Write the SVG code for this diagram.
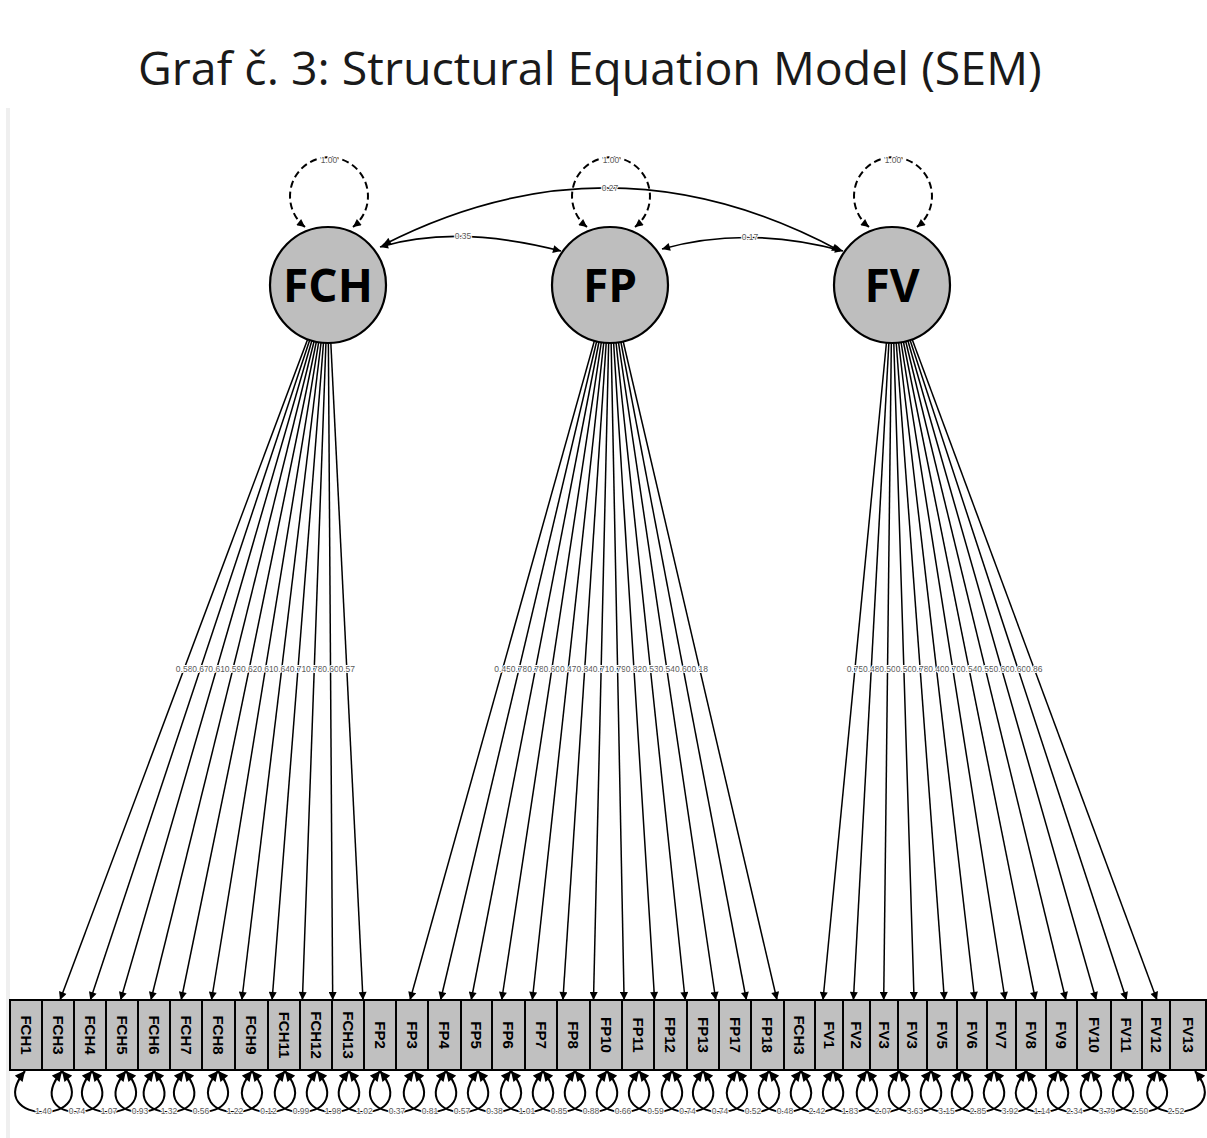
<svg xmlns="http://www.w3.org/2000/svg" width="1207" height="1138" viewBox="0 0 1207 1138">
<defs>
<marker id="ah" viewBox="0 0 10 10" refX="10" refY="5" markerWidth="10" markerHeight="8" markerUnits="userSpaceOnUse" orient="auto-start-reverse"><path d="M0,0 L10,5 L0,10 z" fill="#000"/></marker>
<marker id="ah2" viewBox="0 0 10 10" refX="10" refY="5" markerWidth="11" markerHeight="10" markerUnits="userSpaceOnUse" orient="auto-start-reverse"><path d="M0,0 L10,5 L0,10 z" fill="#000"/></marker>
</defs>
<style>
.title{font-family:"Open Sans","Noto Sans",sans-serif;font-size:46.5px;fill:#1a1a1a}
.lat circle{fill:#bebebe;stroke:#000;stroke-width:2.2}
.lat text{font-family:"Open Sans","Noto Sans",sans-serif;font-weight:bold;font-size:46px;fill:#000;text-anchor:middle}
.man rect{fill:#c0c0c0;stroke:#000;stroke-width:2}
.man text{font-family:"Liberation Sans",Arial,sans-serif;font-weight:bold;font-size:15px;fill:#000;text-anchor:middle;dominant-baseline:central}
.ld{stroke:#000;stroke-width:1.5;fill:none;marker-end:url(#ah)}
.cov{stroke:#000;stroke-width:1.7;fill:none;marker-start:url(#ah);marker-end:url(#ah)}
.var{stroke:#000;stroke-width:2;fill:none;stroke-dasharray:7 4;marker-start:url(#ah);marker-end:url(#ah)}
.res{stroke:#000;stroke-width:2;fill:none;marker-start:url(#ah2);marker-end:url(#ah2)}
.lb{font-family:"Liberation Sans",Arial,sans-serif;font-size:8.5px;fill:#5a5a5a;text-anchor:middle;dominant-baseline:central;stroke:#fff;stroke-width:2;paint-order:stroke}
</style>
<rect x="0" y="0" width="1207" height="1138" fill="#fff"/>
<rect x="6" y="108" width="4" height="1030" fill="#efefef"/>
<text class="title" x="138" y="85">Graf č. 3: Structural Equation Model (SEM)</text>

<g id="connectors">
<line class="ld" x1="328" y1="285" x2="60" y2="1000"/>
<line class="ld" x1="328" y1="285" x2="90.3" y2="1000"/>
<line class="ld" x1="328" y1="285" x2="120.6" y2="1000"/>
<line class="ld" x1="328" y1="285" x2="150.9" y2="1000"/>
<line class="ld" x1="328" y1="285" x2="181.2" y2="1000"/>
<line class="ld" x1="328" y1="285" x2="211.5" y2="1000"/>
<line class="ld" x1="328" y1="285" x2="241.8" y2="1000"/>
<line class="ld" x1="328" y1="285" x2="272.1" y2="1000"/>
<line class="ld" x1="328" y1="285" x2="302.4" y2="1000"/>
<line class="ld" x1="328" y1="285" x2="332.7" y2="1000"/>
<line class="ld" x1="328" y1="285" x2="363" y2="1000"/>
<line class="ld" x1="610" y1="285" x2="410" y2="1000"/>
<line class="ld" x1="610" y1="285" x2="440.6" y2="1000"/>
<line class="ld" x1="610" y1="285" x2="471.2" y2="1000"/>
<line class="ld" x1="610" y1="285" x2="501.7" y2="1000"/>
<line class="ld" x1="610" y1="285" x2="532.3" y2="1000"/>
<line class="ld" x1="610" y1="285" x2="562.9" y2="1000"/>
<line class="ld" x1="610" y1="285" x2="593.5" y2="1000"/>
<line class="ld" x1="610" y1="285" x2="624.1" y2="1000"/>
<line class="ld" x1="610" y1="285" x2="654.6" y2="1000"/>
<line class="ld" x1="610" y1="285" x2="685.2" y2="1000"/>
<line class="ld" x1="610" y1="285" x2="715.8" y2="1000"/>
<line class="ld" x1="610" y1="285" x2="746.4" y2="1000"/>
<line class="ld" x1="610" y1="285" x2="777" y2="1000"/>
<line class="ld" x1="892" y1="285" x2="823" y2="1000"/>
<line class="ld" x1="892" y1="285" x2="853.4" y2="1000"/>
<line class="ld" x1="892" y1="285" x2="883.7" y2="1000"/>
<line class="ld" x1="892" y1="285" x2="914.1" y2="1000"/>
<line class="ld" x1="892" y1="285" x2="944.4" y2="1000"/>
<line class="ld" x1="892" y1="285" x2="974.8" y2="1000"/>
<line class="ld" x1="892" y1="285" x2="1005.2" y2="1000"/>
<line class="ld" x1="892" y1="285" x2="1035.5" y2="1000"/>
<line class="ld" x1="892" y1="285" x2="1065.9" y2="1000"/>
<line class="ld" x1="892" y1="285" x2="1096.2" y2="1000"/>
<line class="ld" x1="892" y1="285" x2="1126.6" y2="1000"/>
<line class="ld" x1="892" y1="285" x2="1157" y2="1000"/>

<path class="cov" d="M380,247 Q456,224 561,251"/>
<path class="cov" d="M662,249 Q747.5,225 843,251"/>
<path class="cov" d="M383,245 Q612,128 840,251"/>

<path class="var" d="M305,227 A39,39 0 1 1 353,227"/>
<path class="var" d="M587,227 A39,39 0 1 1 635,227"/>
<path class="var" d="M869,227 A39,39 0 1 1 917,227"/>

<path class="res" d="M25,1071 C-20,1126 107,1126 62,1071"/>
<path class="res" d="M62,1071 C17,1126 137,1126 92,1071"/>
<path class="res" d="M92,1071 C47,1126 171,1126 126,1071"/>
<path class="res" d="M126,1071 C81,1126 199,1126 154,1071"/>
<path class="res" d="M154,1071 C109,1126 229,1126 184,1071"/>
<path class="res" d="M184,1071 C139,1126 263,1126 218,1071"/>
<path class="res" d="M218,1071 C173,1126 297,1126 252,1071"/>
<path class="res" d="M252,1071 C207,1126 330,1126 285,1071"/>
<path class="res" d="M285,1071 C240,1126 362,1126 317,1071"/>
<path class="res" d="M317,1071 C272,1126 394,1126 349,1071"/>
<path class="res" d="M349,1071 C304,1126 425,1126 380,1071"/>
<path class="res" d="M380,1071 C335,1126 459,1126 414,1071"/>
<path class="res" d="M414,1071 C369,1126 491,1126 446,1071"/>
<path class="res" d="M446,1071 C401,1126 523,1126 478,1071"/>
<path class="res" d="M478,1071 C433,1126 556,1126 511,1071"/>
<path class="res" d="M511,1071 C466,1126 588,1126 543,1071"/>
<path class="res" d="M543,1071 C498,1126 620,1126 575,1071"/>
<path class="res" d="M575,1071 C530,1126 652,1126 607,1071"/>
<path class="res" d="M607,1071 C562,1126 684,1126 639,1071"/>
<path class="res" d="M639,1071 C594,1126 717,1126 672,1071"/>
<path class="res" d="M672,1071 C627,1126 748,1126 703,1071"/>
<path class="res" d="M703,1071 C658,1126 782,1126 737,1071"/>
<path class="res" d="M737,1071 C692,1126 814,1126 769,1071"/>
<path class="res" d="M769,1071 C724,1126 846,1126 801,1071"/>
<path class="res" d="M801,1071 C756,1126 878,1126 833,1071"/>
<path class="res" d="M833,1071 C788,1126 912,1126 867,1071"/>
<path class="res" d="M867,1071 C822,1126 944,1126 899,1071"/>
<path class="res" d="M899,1071 C854,1126 976,1126 931,1071"/>
<path class="res" d="M931,1071 C886,1126 1007,1126 962,1071"/>
<path class="res" d="M962,1071 C917,1126 1039,1126 994,1071"/>
<path class="res" d="M994,1071 C949,1126 1071,1126 1026,1071"/>
<path class="res" d="M1026,1071 C981,1126 1103,1126 1058,1071"/>
<path class="res" d="M1058,1071 C1013,1126 1136,1126 1091,1071"/>
<path class="res" d="M1091,1071 C1046,1126 1168,1126 1123,1071"/>
<path class="res" d="M1123,1071 C1078,1126 1202,1126 1157,1071"/>
<path class="res" d="M1157,1071 C1112,1126 1240,1126 1195,1071"/>
</g>

<g id="connector-labels">
<text class="lb" x="184.1" y="669">0.58</text>
<text class="lb" x="200.4" y="669">0.67</text>
<text class="lb" x="216.6" y="669">0.61</text>
<text class="lb" x="232.9" y="669">0.59</text>
<text class="lb" x="249.2" y="669">0.62</text>
<text class="lb" x="265.4" y="669">0.61</text>
<text class="lb" x="281.7" y="669">0.64</text>
<text class="lb" x="298.0" y="669">0.71</text>
<text class="lb" x="314.3" y="669">0.78</text>
<text class="lb" x="330.5" y="669">0.60</text>
<text class="lb" x="346.8" y="669">0.57</text>
<text class="lb" x="502.6" y="669">0.45</text>
<text class="lb" x="519.0" y="669">0.78</text>
<text class="lb" x="535.5" y="669">0.78</text>
<text class="lb" x="551.8" y="669">0.60</text>
<text class="lb" x="568.3" y="669">0.47</text>
<text class="lb" x="584.7" y="669">0.84</text>
<text class="lb" x="601.1" y="669">0.71</text>
<text class="lb" x="617.6" y="669">0.79</text>
<text class="lb" x="634.0" y="669">0.82</text>
<text class="lb" x="650.4" y="669">0.53</text>
<text class="lb" x="666.8" y="669">0.54</text>
<text class="lb" x="683.2" y="669">0.60</text>
<text class="lb" x="699.7" y="669">0.18</text>
<text class="lb" x="854.9" y="669">0.75</text>
<text class="lb" x="871.3" y="669">0.48</text>
<text class="lb" x="887.5" y="669">0.50</text>
<text class="lb" x="903.9" y="669">0.50</text>
<text class="lb" x="920.1" y="669">0.78</text>
<text class="lb" x="936.5" y="669">0.40</text>
<text class="lb" x="952.8" y="669">0.70</text>
<text class="lb" x="969.1" y="669">0.54</text>
<text class="lb" x="985.4" y="669">0.55</text>
<text class="lb" x="1001.7" y="669">0.60</text>
<text class="lb" x="1018.0" y="669">0.60</text>
<text class="lb" x="1034.3" y="669">0.86</text>
<text class="lb" x="463" y="236">0.35</text>
<text class="lb" x="750" y="237">0.17</text>
<text class="lb" x="610" y="188">0.27</text>
<text class="lb" x="329" y="160">1.00</text>
<text class="lb" x="611" y="160">1.00</text>
<text class="lb" x="893" y="160">1.00</text>
<text class="lb" x="43.5" y="1111">1.40</text>
<text class="lb" x="77" y="1111">0.74</text>
<text class="lb" x="109" y="1111">1.07</text>
<text class="lb" x="140" y="1111">0.93</text>
<text class="lb" x="169" y="1111">1.32</text>
<text class="lb" x="201" y="1111">0.56</text>
<text class="lb" x="235" y="1111">1.22</text>
<text class="lb" x="268.5" y="1111">0.12</text>
<text class="lb" x="301" y="1111">0.99</text>
<text class="lb" x="333" y="1111">1.98</text>
<text class="lb" x="364.5" y="1111">1.02</text>
<text class="lb" x="397" y="1111">0.37</text>
<text class="lb" x="430" y="1111">0.81</text>
<text class="lb" x="462" y="1111">0.57</text>
<text class="lb" x="494.5" y="1111">0.38</text>
<text class="lb" x="527" y="1111">1.01</text>
<text class="lb" x="559" y="1111">0.85</text>
<text class="lb" x="591" y="1111">0.88</text>
<text class="lb" x="623" y="1111">0.66</text>
<text class="lb" x="655.5" y="1111">0.59</text>
<text class="lb" x="687.5" y="1111">0.74</text>
<text class="lb" x="720" y="1111">0.74</text>
<text class="lb" x="753" y="1111">0.52</text>
<text class="lb" x="785" y="1111">0.48</text>
<text class="lb" x="817" y="1111">2.42</text>
<text class="lb" x="850" y="1111">1.83</text>
<text class="lb" x="883" y="1111">2.07</text>
<text class="lb" x="915" y="1111">3.63</text>
<text class="lb" x="946.5" y="1111">3.15</text>
<text class="lb" x="978" y="1111">2.85</text>
<text class="lb" x="1010" y="1111">3.92</text>
<text class="lb" x="1042" y="1111">1.14</text>
<text class="lb" x="1074.5" y="1111">2.34</text>
<text class="lb" x="1107" y="1111">3.79</text>
<text class="lb" x="1140" y="1111">2.50</text>
<text class="lb" x="1176" y="1111">2.52</text>
</g>

<g id="FCH" class="lat"><circle cx="328" cy="285" r="58"/><text x="328" y="302">FCH</text></g>
<g id="FP" class="lat"><circle cx="610" cy="285" r="58"/><text x="610" y="302">FP</text></g>
<g id="FV" class="lat"><circle cx="892" cy="285" r="58"/><text x="892" y="302">FV</text></g>

<g id="m1" class="man"><rect x="10" y="1000" width="32" height="70"/><text x="26" y="1035" transform="rotate(90 26 1035)">FCH1</text></g>
<g id="m2" class="man"><rect x="42" y="1000" width="32" height="70"/><text x="58" y="1035" transform="rotate(90 58 1035)">FCH3</text></g>
<g id="m3" class="man"><rect x="74" y="1000" width="32" height="70"/><text x="90" y="1035" transform="rotate(90 90 1035)">FCH4</text></g>
<g id="m4" class="man"><rect x="106" y="1000" width="32" height="70"/><text x="122" y="1035" transform="rotate(90 122 1035)">FCH5</text></g>
<g id="m5" class="man"><rect x="138" y="1000" width="32" height="70"/><text x="154" y="1035" transform="rotate(90 154 1035)">FCH6</text></g>
<g id="m6" class="man"><rect x="170" y="1000" width="32" height="70"/><text x="186" y="1035" transform="rotate(90 186 1035)">FCH7</text></g>
<g id="m7" class="man"><rect x="202" y="1000" width="33" height="70"/><text x="218.5" y="1035" transform="rotate(90 218.5 1035)">FCH8</text></g>
<g id="m8" class="man"><rect x="235" y="1000" width="33" height="70"/><text x="251.5" y="1035" transform="rotate(90 251.5 1035)">FCH9</text></g>
<g id="m9" class="man"><rect x="268" y="1000" width="32" height="70"/><text x="284" y="1035" transform="rotate(90 284 1035)">FCH11</text></g>
<g id="m10" class="man"><rect x="300" y="1000" width="32" height="70"/><text x="316" y="1035" transform="rotate(90 316 1035)">FCH12</text></g>
<g id="m11" class="man"><rect x="332" y="1000" width="32" height="70"/><text x="348" y="1035" transform="rotate(90 348 1035)">FCH13</text></g>
<g id="m12" class="man"><rect x="364" y="1000" width="32" height="70"/><text x="380" y="1035" transform="rotate(90 380 1035)">FP2</text></g>
<g id="m13" class="man"><rect x="396" y="1000" width="32" height="70"/><text x="412" y="1035" transform="rotate(90 412 1035)">FP3</text></g>
<g id="m14" class="man"><rect x="428" y="1000" width="33" height="70"/><text x="444.5" y="1035" transform="rotate(90 444.5 1035)">FP4</text></g>
<g id="m15" class="man"><rect x="461" y="1000" width="31" height="70"/><text x="476.5" y="1035" transform="rotate(90 476.5 1035)">FP5</text></g>
<g id="m16" class="man"><rect x="492" y="1000" width="33" height="70"/><text x="508.5" y="1035" transform="rotate(90 508.5 1035)">FP6</text></g>
<g id="m17" class="man"><rect x="525" y="1000" width="32" height="70"/><text x="541" y="1035" transform="rotate(90 541 1035)">FP7</text></g>
<g id="m18" class="man"><rect x="557" y="1000" width="33" height="70"/><text x="573.5" y="1035" transform="rotate(90 573.5 1035)">FP8</text></g>
<g id="m19" class="man"><rect x="590" y="1000" width="32" height="70"/><text x="606" y="1035" transform="rotate(90 606 1035)">FP10</text></g>
<g id="m20" class="man"><rect x="622" y="1000" width="32" height="70"/><text x="638" y="1035" transform="rotate(90 638 1035)">FP11</text></g>
<g id="m21" class="man"><rect x="654" y="1000" width="33" height="70"/><text x="670.5" y="1035" transform="rotate(90 670.5 1035)">FP12</text></g>
<g id="m22" class="man"><rect x="687" y="1000" width="32" height="70"/><text x="703" y="1035" transform="rotate(90 703 1035)">FP13</text></g>
<g id="m23" class="man"><rect x="719" y="1000" width="32" height="70"/><text x="735" y="1035" transform="rotate(90 735 1035)">FP17</text></g>
<g id="m24" class="man"><rect x="751" y="1000" width="33" height="70"/><text x="767.5" y="1035" transform="rotate(90 767.5 1035)">FP18</text></g>
<g id="m25" class="man"><rect x="784" y="1000" width="31" height="70"/><text x="799.5" y="1035" transform="rotate(90 799.5 1035)">FCH3</text></g>
<g id="m26" class="man"><rect x="815" y="1000" width="28" height="70"/><text x="829" y="1035" transform="rotate(90 829 1035)">FV1</text></g>
<g id="m27" class="man"><rect x="843" y="1000" width="27" height="70"/><text x="856.5" y="1035" transform="rotate(90 856.5 1035)">FV2</text></g>
<g id="m28" class="man"><rect x="870" y="1000" width="28" height="70"/><text x="884" y="1035" transform="rotate(90 884 1035)">FV3</text></g>
<g id="m29" class="man"><rect x="898" y="1000" width="29" height="70"/><text x="912.5" y="1035" transform="rotate(90 912.5 1035)">FV3</text></g>
<g id="m30" class="man"><rect x="927" y="1000" width="30" height="70"/><text x="942" y="1035" transform="rotate(90 942 1035)">FV5</text></g>
<g id="m31" class="man"><rect x="957" y="1000" width="30" height="70"/><text x="972" y="1035" transform="rotate(90 972 1035)">FV6</text></g>
<g id="m32" class="man"><rect x="987" y="1000" width="29" height="70"/><text x="1001.5" y="1035" transform="rotate(90 1001.5 1035)">FV7</text></g>
<g id="m33" class="man"><rect x="1016" y="1000" width="30" height="70"/><text x="1031" y="1035" transform="rotate(90 1031 1035)">FV8</text></g>
<g id="m34" class="man"><rect x="1046" y="1000" width="31" height="70"/><text x="1061.5" y="1035" transform="rotate(90 1061.5 1035)">FV9</text></g>
<g id="m35" class="man"><rect x="1077" y="1000" width="34" height="70"/><text x="1094" y="1035" transform="rotate(90 1094 1035)">FV10</text></g>
<g id="m36" class="man"><rect x="1111" y="1000" width="31" height="70"/><text x="1126.5" y="1035" transform="rotate(90 1126.5 1035)">FV11</text></g>
<g id="m37" class="man"><rect x="1142" y="1000" width="28" height="70"/><text x="1156" y="1035" transform="rotate(90 1156 1035)">FV12</text></g>
<g id="m38" class="man"><rect x="1170" y="1000" width="36" height="70"/><text x="1188" y="1035" transform="rotate(90 1188 1035)">FV13</text></g>
</svg>
